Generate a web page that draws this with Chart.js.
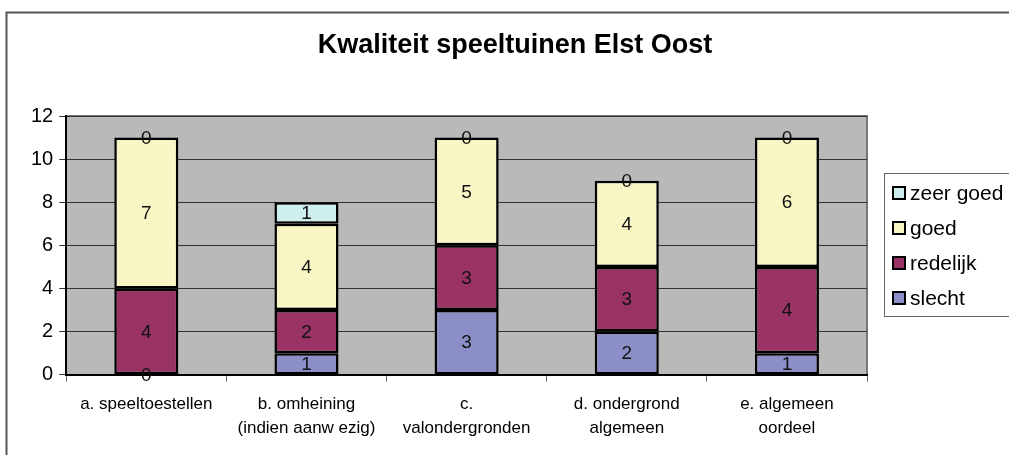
<!DOCTYPE html>
<html>
<head>
<meta charset="utf-8">
<script src="https://cdn.jsdelivr.net/npm/chart.js@4.4.1/dist/chart.umd.min.js"></script>
<style>
  html, body { margin: 0; padding: 0; background: #fff; }
  #wrap { width: 1009px; height: 455px; position: relative; }
</style>
</head>
<body>
<div id="wrap"><canvas id="c"></canvas></div>
<script>
const chartTitle = 'Kwaliteit speeltuinen Elst Oost';
const categories = [
  ['a. speeltoestellen'],
  ['b. omheining', '(indien aanw ezig)'],
  ['c.', 'valondergronden'],
  ['d. ondergrond', 'algemeen'],
  ['e. algemeen', 'oordeel']
];
const slecht = [0, 1, 3, 2, 1];
const redelijk = [4, 2, 3, 3, 4];
const goed = [7, 4, 5, 4, 6];
const zeerGoed = [0, 1, 0, 0, 0];
const yTicks = [0, 2, 4, 6, 8, 10, 12];

const FONT = 'Arial, "Liberation Sans", sans-serif';

// frame, grey plot area, title, value labels and legend box
const excelLook = {
  id: 'excelLook',
  beforeDraw(chart) {
    const { ctx, chartArea: a } = chart;
    ctx.save();
    ctx.fillStyle = '#fff';
    ctx.fillRect(0, 0, chart.width, chart.height);
    ctx.strokeStyle = '#555';
    ctx.lineWidth = 2;
    ctx.beginPath();
    ctx.moveTo(6.5, 470);
    ctx.lineTo(6.5, 12.5);
    ctx.lineTo(1020, 12.5);
    ctx.stroke();
    ctx.fillStyle = '#b9b9b9';
    ctx.fillRect(a.left, a.top, a.right - a.left, a.bottom - a.top);
    ctx.strokeStyle = '#777';
    ctx.lineWidth = 2;
    ctx.beginPath();
    ctx.moveTo(a.left, a.top);
    ctx.lineTo(a.right, a.top);
    ctx.lineTo(a.right, a.bottom);
    ctx.stroke();
    ctx.fillStyle = '#000';
    ctx.font = 'bold 27px ' + FONT;
    ctx.textAlign = 'center';
    ctx.textBaseline = 'middle';
    ctx.fillText(chartTitle, 515, 46);
    ctx.restore();
  },
  afterDatasetsDraw(chart) {
    const { ctx } = chart;
    ctx.save();
    ctx.font = '19px ' + FONT;
    ctx.fillStyle = '#111';
    ctx.textAlign = 'center';
    ctx.textBaseline = 'middle';
    chart.data.datasets.forEach((ds, i) => {
      chart.getDatasetMeta(i).data.forEach((bar, j) => {
        const y = (bar.y + bar.base) / 2;
        ctx.fillText(String(ds.data[j]), bar.x, y + 1);
      });
    });
    // legend
    const lx = 884, ly = 173, lw = 140, lh = 143;
    ctx.fillStyle = '#fff';
    ctx.fillRect(lx, ly, lw, lh);
    ctx.strokeStyle = '#666';
    ctx.lineWidth = 1;
    ctx.strokeRect(lx + 0.5, ly + 0.5, lw, lh);
    ctx.textAlign = 'left';
    ctx.font = '21px ' + FONT;
    const order = chart.data.datasets.slice().reverse();
    order.forEach((ds, k) => {
      const cy = ly + 20 + k * 35;
      ctx.fillStyle = ds.backgroundColor;
      ctx.fillRect(lx + 9, cy - 6, 12, 12);
      ctx.strokeStyle = '#000';
      ctx.lineWidth = 2;
      ctx.strokeRect(lx + 9, cy - 6, 12, 12);
      ctx.fillStyle = '#000';
      ctx.fillText(ds.label, lx + 26, cy + 1);
    });
    ctx.restore();
  }
};

const mk = (label, data, color) => ({
  label, data,
  backgroundColor: color,
  borderColor: '#000',
  borderWidth: 2.5,
  borderSkipped: false,
  barPercentage: 0.4,
  categoryPercentage: 1
});

new Chart(document.getElementById('c'), {
  type: 'bar',
  data: {
    labels: categories,
    datasets: [
      mk('slecht', slecht, '#8c8ec8'),
      mk('redelijk', redelijk, '#993366'),
      mk('goed', goed, '#f9f6c6'),
      mk('zeer goed', zeerGoed, '#cfeeee')
    ]
  },
  options: {
    responsive: true,
    maintainAspectRatio: false,
    animation: false,
    events: [],
    layout: { padding: { left: 25, right: 142, top: 116, bottom: 4 } },
    plugins: {
      legend: { display: false },
      tooltip: { enabled: false },
      title: { display: false }
    },
    scales: {
      x: {
        stacked: true,
        offset: true,
        grid: { offset: true, drawOnChartArea: false, drawTicks: true, tickLength: 7, color: '#666', lineWidth: 1 },
        border: { color: '#000', width: 2 },
        ticks: { color: '#000', font: { family: FONT, size: 17, lineHeight: 1.45 }, padding: 10, maxRotation: 0 }
      },
      y: {
        stacked: true,
        min: 0,
        max: 12,
        afterBuildTicks(axis) { axis.ticks = yTicks.map(v => ({ value: v })); },
        grid: { color: '#333', lineWidth: 1, tickLength: 7 },
        border: { color: '#000', width: 2 },
        ticks: { color: '#000', font: { family: FONT, size: 20 }, padding: 6 }
      }
    }
  },
  plugins: [excelLook]
});
</script>
</body>
</html>
